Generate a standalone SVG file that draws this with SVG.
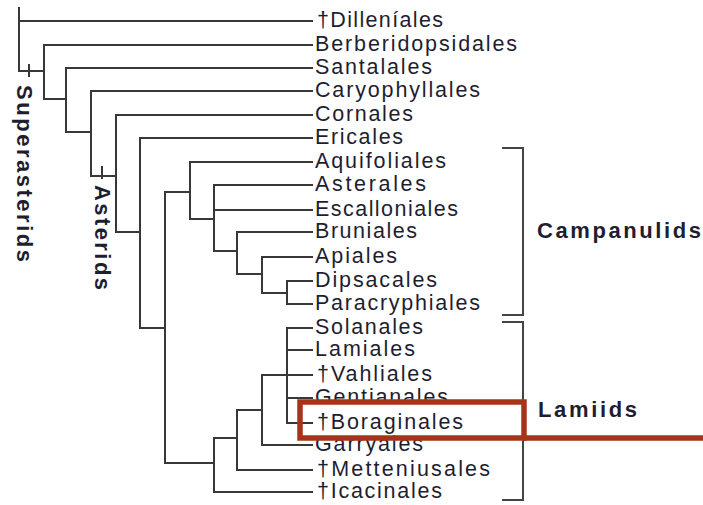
<svg xmlns="http://www.w3.org/2000/svg" width="703" height="505" viewBox="0 0 703 505">
<style>
.t{font-family:"Liberation Sans",Arial,sans-serif;font-size:21.5px;fill:#1e1e30}
.b{font-family:"Liberation Sans",Arial,sans-serif;font-size:22px;font-weight:bold;fill:#1e1e30}
.e{fill:none;stroke:#383838;stroke-width:2;stroke-linecap:square}
.br{fill:none;stroke:#444;stroke-width:2}
</style>
<rect width="703" height="505" fill="#fff"/>
<g id="connectors" class="e">
<path d="M19,8V71H44M19,21H312"/>
<path d="M44,45V99H66M44,45H312"/>
<path d="M66,68V132H91M66,68H312"/>
<path d="M91,91V176H116M91,91H312"/>
<path d="M116,115V232H140M116,115H312"/>
<path d="M140,138V328H165M140,138H312"/>
<path d="M165,192V463H214M165,192H190"/>
<path d="M190,162V219H214M190,162H312"/>
<path d="M214,185V251H237M214,185H312M214,210H312"/>
<path d="M237,232V274H262M237,232H312"/>
<path d="M262,257V293H287M262,257H312"/>
<path d="M287,281V304M287,281H312M287,304H312"/>
<path d="M214,438V492H312M214,438H237"/>
<path d="M237,410V470H312M237,410H262"/>
<path d="M262,375V445H312M262,375H287"/>
<path d="M287,328V423M287,328H312M287,350H312M287,375H312M287,398H312M287,423H312"/>
<path d="M29,65V76M102,167V178"/>
</g>
<g id="brackets" class="br">
<path d="M502,148H523V315H502"/>
<path d="M502,322H523V500H502"/>
</g>
<g id="leaves">
<text id="dilleniales" class="t" x="317" y="27" textLength="126" lengthAdjust="spacing">†Dilleníales</text>
<text id="berberidopsidales" class="t" x="315" y="51" textLength="202" lengthAdjust="spacing">Berberidopsidales</text>
<text id="santalales" class="t" x="315" y="74" textLength="117" lengthAdjust="spacing">Santalales</text>
<text id="caryophyllales" class="t" x="315" y="97" textLength="165" lengthAdjust="spacing">Caryophyllales</text>
<text id="cornales" class="t" x="315" y="121" textLength="98" lengthAdjust="spacing">Cornales</text>
<text id="ericales" class="t" x="315" y="144" textLength="88" lengthAdjust="spacing">Ericales</text>
<text id="aquifoliales" class="t" x="315" y="168" textLength="131" lengthAdjust="spacing">Aquifoliales</text>
<text id="asterales" class="t" x="315" y="191" textLength="111" lengthAdjust="spacing">Asterales</text>
<text id="escalloniales" class="t" x="315" y="216" textLength="143" lengthAdjust="spacing">Escalloniales</text>
<text id="bruniales" class="t" x="315" y="238" textLength="102" lengthAdjust="spacing">Bruniales</text>
<text id="apiales" class="t" x="315" y="263" textLength="82" lengthAdjust="spacing">Apiales</text>
<text id="dipsacales" class="t" x="315" y="287" textLength="122" lengthAdjust="spacing">Dipsacales</text>
<text id="paracryphiales" class="t" x="315" y="310" textLength="165" lengthAdjust="spacing">Paracryphiales</text>
<text id="solanales" class="t" x="315" y="334" textLength="108" lengthAdjust="spacing">Solanales</text>
<text id="lamiales" class="t" x="315" y="356" textLength="100" lengthAdjust="spacing">Lamiales</text>
<text id="vahliales" class="t" x="317" y="381" textLength="115" lengthAdjust="spacing">†Vahliales</text>
<text id="gentianales" class="t" x="315" y="404" textLength="133" lengthAdjust="spacing">Gentianales</text>
<text id="boraginales" class="t" x="317" y="429" textLength="146" lengthAdjust="spacing">†Boraginales</text>
<text id="garryales" class="t" x="315" y="451" textLength="108" lengthAdjust="spacing">Garryales</text>
<text id="metteniusales" class="t" x="317" y="476" textLength="173" lengthAdjust="spacing">†Metteniusales</text>
<text id="icacinales" class="t" x="317" y="498" textLength="125" lengthAdjust="spacing">†Icacinales</text>
</g>
<g id="clades">
<text id="campanulids" class="b" x="537" y="238" textLength="164" lengthAdjust="spacing">Campanulids</text>
<text id="lamiids" class="b" x="538" y="417" textLength="99" lengthAdjust="spacing">Lamiids</text>
<text id="superasterids" class="b" x="17" y="85" transform="rotate(90 17 85)" textLength="177" lengthAdjust="spacing">Superasterids</text>
<text id="asterids" class="b" x="95" y="185" transform="rotate(90 95 185)" textLength="105" lengthAdjust="spacing">Asterids</text>
</g>
<g id="highlight" fill="none" stroke="#a53418" stroke-width="5.5">
<rect x="300" y="402" width="224" height="36"/>
<path d="M524,438H703"/>
</g>
</svg>
